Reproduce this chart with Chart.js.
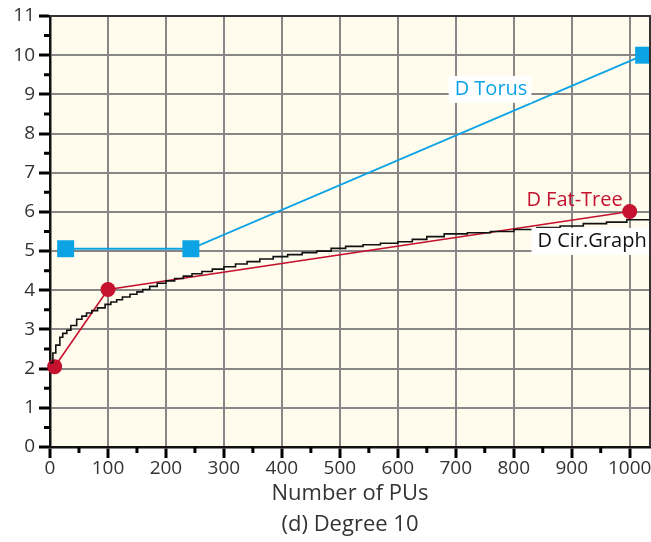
<!DOCTYPE html>
<html>
<head>
<meta charset="utf-8">
<script src="https://cdn.jsdelivr.net/npm/chart.js@4/dist/chart.umd.min.js"></script>
<style>
  body { margin: 0; background: #fff; }
  #wrap { width: 651px; height: 542px; }
</style>
</head>
<body>
<div id="wrap"><canvas id="chart"></canvas></div>
<script>
// values
const xTickValues = [0, 100, 200, 300, 400, 500, 600, 700, 800, 900, 1000];
const yTickValues = [0, 1, 2, 3, 4, 5, 6, 7, 8, 9, 10, 11];

const torusX = [27, 243, 1024];
const torusY = [5.06, 5.06, 10];

const fatTreeX = [8, 100, 1000];
const fatTreeY = [2.05, 4.02, 6.01];

const cirGraphX = [0, 5, 10, 17, 22, 29, 36, 46, 55, 63, 72, 82, 95, 105, 115, 125, 138, 150, 160, 172, 185,
    200, 215, 230, 245, 262, 280, 300, 320, 340, 362, 385, 410, 435, 460, 485, 510, 540, 570, 600, 625,
    650, 680, 720, 760, 800, 840, 880, 920, 960, 995, 1035];
const cirGraphY = [2.15, 2.4, 2.6, 2.8, 2.9, 2.98, 3.1, 3.26, 3.34, 3.42, 3.48, 3.55, 3.64, 3.7, 3.76, 3.83, 3.9, 3.96, 4.02, 4.1, 4.18,
    4.24, 4.3, 4.36, 4.42, 4.48, 4.54, 4.6, 4.67, 4.73, 4.8, 4.86, 4.91, 4.96, 5.0, 5.07, 5.12, 5.16, 5.2, 5.24, 5.3,
    5.37, 5.44, 5.47, 5.5, 5.55, 5.6, 5.64, 5.7, 5.74, 5.8, 5.8];

const blue = '#0ca3e4';
const red = '#c4122f';
const fontFamily = "'Open Sans', 'DejaVu Sans', sans-serif";

const toPoints = (xs, ys) => xs.map((x, i) => ({x: x, y: ys[i]}));

// series labels drawn inside the plot (data coords of anchor)
const seriesLabels = [
    {text: 'D Torus', x: 698, y: 9.14, align: 'left', color: blue, box: true},
    {text: 'D Fat-Tree', x: 988, y: 6.3, align: 'right', color: red, box: false},
    {text: 'D Cir.Graph', x: 841, y: 5.26, align: 'left', color: '#111', box: true}
];

const plotBackground = {
    id: 'plotBackground',
    beforeDraw: (chart) => {
        const {ctx, chartArea} = chart;
        ctx.save();
        ctx.fillStyle = '#fffcee';
        ctx.fillRect(chartArea.left, chartArea.top, chartArea.right - chartArea.left, chartArea.bottom - chartArea.top);
        ctx.restore();
    },
    afterDraw: (chart) => {
        const {ctx, chartArea} = chart;
        const xs = chart.scales.x;
        const ys = chart.scales.y;
        ctx.save();
        // frame top + right
        ctx.strokeStyle = '#333';
        ctx.lineWidth = 2;
        ctx.beginPath();
        ctx.moveTo(chartArea.left, chartArea.top);
        ctx.lineTo(chartArea.right, chartArea.top);
        ctx.lineTo(chartArea.right, chartArea.bottom);
        ctx.stroke();
        // minor ticks
        ctx.strokeStyle = '#000';
        ctx.lineWidth = 3;
        ctx.beginPath();
        for (let v = 50; v < xs.max; v += 100) {
            const px = xs.getPixelForValue(v);
            ctx.moveTo(px, chartArea.bottom);
            ctx.lineTo(px, chartArea.bottom + 6);
        }
        for (let v = 0.5; v < ys.max; v += 1) {
            const py = ys.getPixelForValue(v);
            ctx.moveTo(chartArea.left - 6, py);
            ctx.lineTo(chartArea.left, py);
        }
        ctx.stroke();
        // x tick labels (drawn here so the last label does not shrink the plot)
        ctx.fillStyle = '#333';
        ctx.font = '19px ' + fontFamily;
        ctx.textAlign = 'center';
        ctx.textBaseline = 'top';
        xTickValues.forEach(v => {
            ctx.fillText(String(v), xs.getPixelForValue(v), chartArea.bottom + 12);
        });
        ctx.restore();
    }
};

const seriesText = {
    id: 'seriesText',
    afterDatasetsDraw: (chart) => {
        const ctx = chart.ctx;
        const xs = chart.scales.x;
        const ys = chart.scales.y;
        ctx.save();
        ctx.font = '20px ' + fontFamily;
        ctx.textBaseline = 'middle';
        seriesLabels.forEach(l => {
            const px = xs.getPixelForValue(l.x);
            const py = ys.getPixelForValue(l.y);
            const w = ctx.measureText(l.text).width;
            const left = l.align === 'left' ? px : px - w;
            if (l.box) {
                ctx.fillStyle = '#fff';
                ctx.fillRect(left - 6, py - 13, w + 10, 27);
            }
            ctx.fillStyle = l.color;
            ctx.textAlign = 'left';
            ctx.fillText(l.text, left, py);
        });
        ctx.restore();
    }
};

const drawChart = () => {
    const ctx = document.getElementById('chart').getContext('2d');

    new Chart(ctx, {
        type: 'line',
        data: {
            datasets: [
                {
                    label: 'D Cir.Graph',
                    data: toPoints(cirGraphX, cirGraphY),
                    borderColor: '#111',
                    borderWidth: 1.6,
                    stepped: true,
                    pointRadius: 0
                },
                {
                    label: 'D Fat-Tree',
                    data: toPoints(fatTreeX, fatTreeY),
                    borderColor: red,
                    backgroundColor: red,
                    borderWidth: 1.6,
                    pointStyle: 'circle',
                    pointRadius: 7.5,
                    pointBorderWidth: 0
                },
                {
                    label: 'D Torus',
                    data: toPoints(torusX, torusY),
                    borderColor: blue,
                    backgroundColor: blue,
                    borderWidth: 1.8,
                    pointStyle: 'rect',
                    pointRadius: 12,
                    pointBorderWidth: 0
                }
            ]
        },
        options: {
            responsive: true,
            maintainAspectRatio: false,
            animation: false,
            clip: false,
            layout: {autoPadding: false, padding: {top: 16, right: 1, left: 0, bottom: 0}},
            plugins: {
                legend: {display: false},
                tooltip: {enabled: false},
                title: {display: false}
            },
            scales: {
                x: {
                    type: 'linear',
                    min: 0,
                    max: 1035,
                    afterBuildTicks: (scale) => {
                        scale.ticks = xTickValues.map(v => ({value: v}));
                    },
                    afterFit: (scale) => {
                        scale.height = 95;
                    },
                    grid: {
                        color: '#878787',
                        lineWidth: 2,
                        tickColor: '#000',
                        tickLength: 11,
                        tickWidth: 3
                    },
                    border: {color: '#111', width: 2.5},
                    ticks: {display: false},
                    title: {
                        display: true,
                        text: ['Number of PUs', '(d) Degree 10'],
                        color: '#333',
                        padding: {top: 0, bottom: 2},
                        font: {family: fontFamily, size: 22, lineHeight: 1.41}
                    }
                },
                y: {
                    type: 'linear',
                    min: 0,
                    max: 11,
                    afterBuildTicks: (scale) => {
                        scale.ticks = yTickValues.map(v => ({value: v}));
                    },
                    afterFit: (scale) => {
                        scale.width = 50;
                    },
                    grid: {
                        color: '#878787',
                        lineWidth: 2,
                        tickColor: '#000',
                        tickLength: 11,
                        tickWidth: 3
                    },
                    border: {color: '#111', width: 2.5},
                    ticks: {
                        color: '#333',
                        padding: 4,
                        font: {family: fontFamily, size: 19}
                    }
                }
            }
        },
        plugins: [plotBackground, seriesText]
    });
}

drawChart();
</script>
</body>
</html>
